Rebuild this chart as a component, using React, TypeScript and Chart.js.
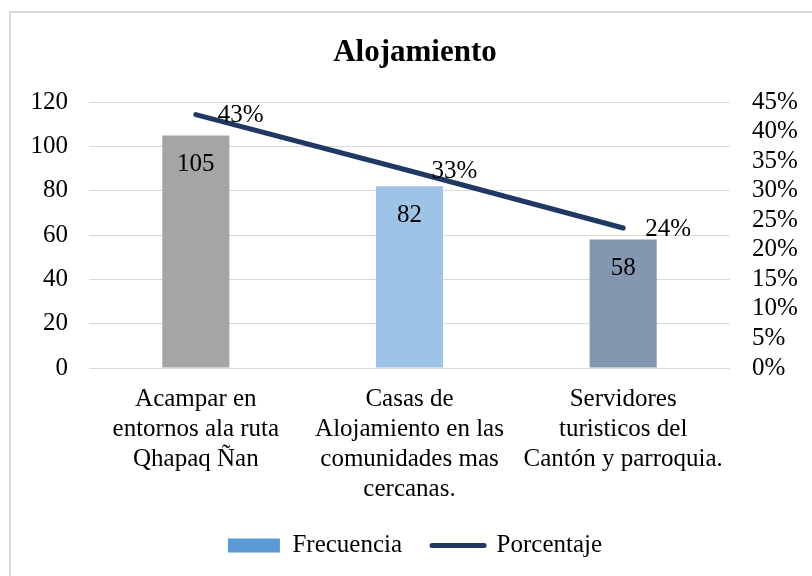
import React, { useEffect, useRef } from "react";
import { Chart, registerables } from "chart.js";

Chart.register(...registerables);

const categories: string[][] = [
  ["Acampar en", "entornos ala ruta", "Qhapaq Ñan"],
  ["Casas de", "Alojamiento en las", "comunidades mas", "cercanas."],
  ["Servidores", "turisticos del", "Cantón y parroquia."],
];
const frecuencia = [105, 82, 58];
const porcentaje = [42.9, 33.4, 23.7];
const barColors = ["#A5A5A5", "#9DC3E6", "#8497B0"];
const lineColor = "#203864";
const legendBarColor = "#5B9BD5";
const FONT = "'Liberation Serif', 'Times New Roman', serif";

const labelsPlugin = {
  id: "valueLabels",
  afterDatasetsDraw(chart: any) {
    const ctx = chart.ctx;
    ctx.save();
    ctx.font = `25px ${FONT}`;
    ctx.fillStyle = "#000";
    ctx.textBaseline = "middle";
    const barMeta = chart.getDatasetMeta(0);
    barMeta.data.forEach((el: any, i: number) => {
      ctx.textAlign = "center";
      ctx.fillText(String(frecuencia[i]), el.x, el.y + 29);
    });
    const lineMeta = chart.getDatasetMeta(1);
    lineMeta.data.forEach((el: any, i: number) => {
      ctx.textAlign = "left";
      ctx.fillText(Math.round(porcentaje[i]) + "%", el.x + 22, el.y + 1);
    });
    ctx.restore();
  },
};

export default function App() {
  const ref = useRef<HTMLCanvasElement>(null);
  useEffect(() => {
    if (!ref.current) return;
    Chart.defaults.font.family = FONT;
    Chart.defaults.color = "#000";
    const chart = new Chart(ref.current, {
      type: "bar",
      data: {
        labels: categories as any,
        datasets: [
          {
            type: "bar",
            label: "Frecuencia",
            data: frecuencia,
            backgroundColor: barColors,
            yAxisID: "y",
            order: 1,
            categoryPercentage: 1,
            barPercentage: 0.314,
          } as any,
          {
            type: "line",
            label: "Porcentaje",
            data: porcentaje,
            borderColor: lineColor,
            backgroundColor: lineColor,
            borderWidth: 5,
            borderCapStyle: "round",
            pointRadius: 0,
            yAxisID: "y1",
            order: 0,
          } as any,
        ],
      },
      options: {
        animation: false,
        responsive: false,
        layout: { padding: { left: 20, right: 2, top: 12, bottom: 8 } },
        plugins: {
          tooltip: { enabled: false },
          title: {
            display: true,
            text: "Alojamiento",
            font: { size: 31, weight: "bold", family: FONT, lineHeight: 1.2 },
            color: "#000",
            padding: { top: 22, bottom: 31 },
          },
          legend: {
            position: "bottom",
            labels: {
              font: { size: 25, family: FONT, lineHeight: 1.2 },
              color: "#000",
              usePointStyle: true,
              pointStyleWidth: 52,
              boxHeight: 14,
              padding: 30,
              generateLabels: () => [
                {
                  text: "Frecuencia",
                  fillStyle: legendBarColor,
                  strokeStyle: legendBarColor,
                  lineWidth: 0,
                  pointStyle: "rect",
                  datasetIndex: 0,
                  hidden: false,
                } as any,
                {
                  text: "Porcentaje",
                  fillStyle: lineColor,
                  strokeStyle: lineColor,
                  lineWidth: 5,
                  lineCap: "round",
                  pointStyle: "line",
                  datasetIndex: 1,
                  hidden: false,
                } as any,
              ],
            },
          },
        },
        scales: {
          x: {
            grid: { display: false, drawTicks: false },
            border: { display: false },
            ticks: {
              font: { size: 25, family: FONT, lineHeight: 1.2 },
              color: "#000",
              padding: 16,
              maxRotation: 0,
              autoSkip: false,
            },
            afterFit: (s: any) => {
              s.height = 135;
            },
          },
          y: {
            position: "left",
            min: 0,
            max: 120,
            ticks: {
              stepSize: 20,
              autoSkip: false,
              font: { size: 25, family: FONT },
              color: "#000",
              padding: 21,
            },
            grid: { color: "#D9D9D9", lineWidth: 1, drawTicks: false },
            border: { display: false },
            afterFit: (s: any) => {
              s.width = 69;
            },
          },
          y1: {
            position: "right",
            min: 0,
            max: 45,
            ticks: {
              stepSize: 5,
              autoSkip: false,
              font: { size: 25, family: FONT },
              color: "#000",
              padding: 22,
              callback: (v: any) => v + "%",
            },
            grid: { display: false, drawTicks: false },
            border: { display: false },
            afterFit: (s: any) => {
              s.width = 80;
            },
          },
        },
      } as any,
      plugins: [labelsPlugin],
    });
    return () => chart.destroy();
  }, []);

  return (
    <div style={{ position: "fixed", left: 0, top: 0, width: 812, height: 576, background: "#fff", overflow: "hidden" }}>
      <div
        style={{
          position: "absolute",
          left: 9,
          top: 11,
          width: 820,
          height: 600,
          border: "2px solid #D9D9D9",
          boxSizing: "border-box",
        }}
      />
      <canvas ref={ref} width={812} height={576} style={{ position: "absolute", left: 0, top: 0, width: 812, height: 576 }} />
    </div>
  );
}
